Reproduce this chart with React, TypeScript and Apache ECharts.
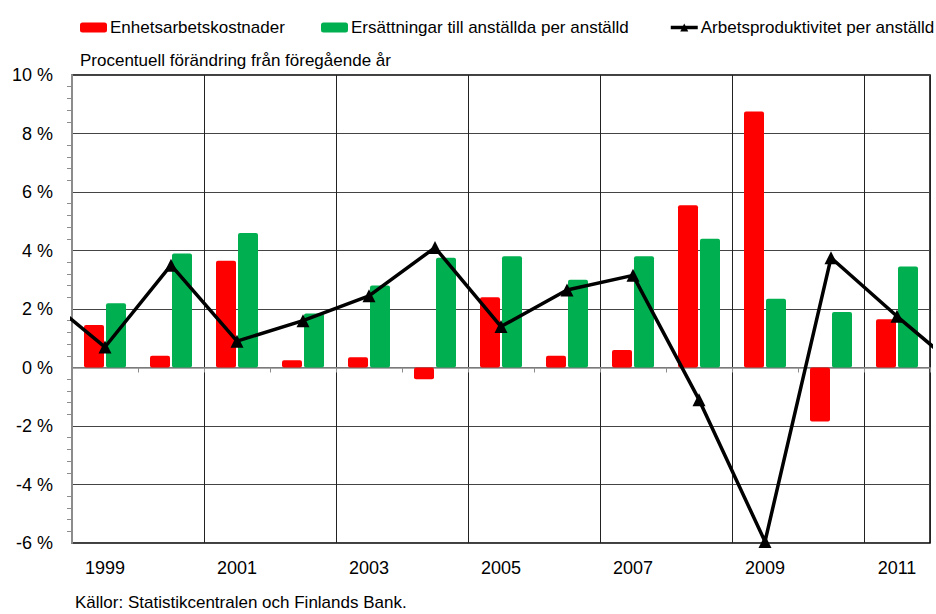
import React, { useEffect, useRef } from "react";
import * as echarts from "echarts";

const years = ["1999", "2000", "2001", "2002", "2003", "2004", "2005", "2006", "2007", "2008", "2009", "2010", "2011"];
const unitLabourCosts = [1.45, 0.4, 3.65, 0.25, 0.35, -0.4, 2.4, 0.4, 0.6, 5.55, 8.75, -1.85, 1.65];
const compensation = [2.2, 3.9, 4.6, 1.85, 2.8, 3.75, 3.8, 3.0, 3.8, 4.4, 2.35, 1.9, 3.45];
const productivityYears = [1998, 1999, 2000, 2001, 2002, 2003, 2004, 2005, 2006, 2007, 2008, 2009, 2010, 2011, 2012];
const productivity = [2.55, 0.7, 3.5, 0.9, 1.6, 2.45, 4.1, 1.4, 2.65, 3.15, -1.1, -5.95, 3.75, 1.75, -0.15];
const yTicks = { min: -6, max: 10, interval: 2 };

const nameRed = "Enhetsarbetskostnader";
const nameGreen = "Ersättningar till anställda per anställd";
const nameLine = "Arbetsproduktivitet per anställd";
const subtitle = "Procentuell förändring från föregående år";
const footer = "Källor: Statistikcentralen och Finlands Bank.";

const FONT = "Liberation Sans, Arial, sans-serif";

export default function App() {
  const ref = useRef<HTMLDivElement>(null);
  useEffect(() => {
    if (!ref.current) return;
    const chart = echarts.init(ref.current, null, { renderer: "svg" });
    const legendBase = {
      top: 14,
      itemWidth: 27,
      itemHeight: 10,
      textStyle: { fontFamily: FONT, fontSize: 17, color: "#000", padding: [0, 0, 0, -2] },
      selectedMode: false,
    };
    chart.setOption({
      animation: false,
      backgroundColor: "#fff",
      textStyle: { fontFamily: FONT },
      legend: [
        { ...legendBase, left: 75, data: [nameRed] },
        { ...legendBase, left: 316, data: [nameGreen] },
        {
          ...legendBase,
          left: 664,
          data: [{ name: nameLine, itemStyle: { color: "#000" }, lineStyle: { width: 3.5 } }],
        },
      ],
      grid: {
        left: 72,
        right: 6,
        top: 75,
        bottom: 71,
        show: true,
        borderColor: "#000",
        borderWidth: 1.5,
        backgroundColor: "transparent",
      },
      xAxis: [
        {
          type: "category",
          data: years,
          position: "bottom",
          axisLine: { show: false, onZero: false },
          axisTick: { show: false },
          axisLabel: { interval: 1, fontSize: 18, color: "#000", margin: 16, fontFamily: FONT },
          splitLine: { show: true, interval: 1, lineStyle: { color: "#222", width: 1 } },
        },
        {
          type: "category",
          data: years,
          axisLine: { show: true, onZero: true, lineStyle: { color: "#8c8c8c", width: 1.5 } },
          axisTick: { show: true, inside: true, length: 5, interval: 0, lineStyle: { color: "#8c8c8c" } },
          axisLabel: { show: false },
          splitLine: { show: false },
        },
        {
          type: "value",
          min: 0,
          max: years.length,
          show: false,
        },
      ],
      yAxis: {
        type: "value",
        min: yTicks.min,
        max: yTicks.max,
        interval: yTicks.interval,
        axisLine: { show: true, lineStyle: { color: "#8c8c8c", width: 2 } },
        axisTick: { show: false },
        minorTick: { show: true, splitNumber: 5, length: 5, lineStyle: { color: "#8c8c8c" } },
        axisLabel: {
          fontSize: 18,
          color: "#000",
          margin: 19,
          fontFamily: FONT,
          formatter: (v: number) => `${v} %`,
        },
        splitLine: { show: true, lineStyle: { color: "#444", width: 1 } },
      },
      series: [
        {
          name: nameRed,
          type: "bar",
          xAxisIndex: 0,
          data: unitLabourCosts,
          barWidth: 20,
          barGap: "10%",
          itemStyle: { color: "#ff0000", borderRadius: 2 },
        },
        {
          name: nameGreen,
          type: "bar",
          xAxisIndex: 0,
          data: compensation,
          barWidth: 20,
          barGap: "10%",
          itemStyle: { color: "#00b050", borderRadius: 2 },
        },
        {
          name: nameLine,
          type: "line",
          xAxisIndex: 2,
          data: productivityYears.map((y, i) => [y - Number(years[0]) + 0.5, productivity[i]]),
          clip: true,
          symbol: "triangle",
          symbolSize: 13,
          lineStyle: { color: "#000", width: 3.5 },
          itemStyle: { color: "#000" },
          z: 5,
        },
      ],
      graphic: [
        {
          type: "text",
          left: 80,
          top: 52,
          style: { text: subtitle, fontSize: 17, fill: "#000", fontFamily: FONT },
        },
        {
          type: "text",
          left: 75,
          top: 594,
          style: { text: footer, fontSize: 17, fill: "#000", fontFamily: FONT },
        },
      ],
    });
    return () => chart.dispose();
  }, []);
  return (
    <div
      ref={ref}
      style={{ position: "fixed", left: 0, top: 0, width: 936, height: 614 }}
    />
  );
}
